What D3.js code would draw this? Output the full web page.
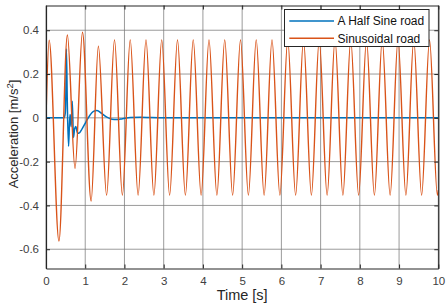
<!DOCTYPE html>
<html><head><meta charset="utf-8">
<script src="https://cdn.jsdelivr.net/npm/d3@7"></script>
<style>html,body{margin:0;padding:0;background:#fff;}svg{display:block;font-family:"Liberation Sans",Arial,sans-serif;}</style>
</head><body>
<svg id="chart" width="448" height="305"></svg>
<script>
const xTicks = [0,1,2,3,4,5,6,7,8,9,10];
const yTicks = [-0.6,-0.4,-0.2,0,0.2,0.4];
const yTickLabels = ["-0.6","-0.4","-0.2","0","0.2","0.4"];
const seriesNames = ["A Half Sine road","Sinusoidal road"];

const halfSineTime = [0,0.46,0.49,0.505,0.52,0.545,0.575,0.60,0.615,0.64,0.67,0.70,0.73,0.76,0.80,0.84,0.92,1.02,1.12,1.2,1.30,1.42,1.55,1.68,1.81,1.95,2.15,2.4,2.7,3.0,10];
const halfSineAccel = [0,0,0.02,0.10,0.315,0.05,-0.13,-0.02,0.015,-0.04,0.076,-0.09,-0.05,-0.04,-0.068,-0.07,-0.05,-0.018,0.012,0.028,0.033,0.02,0.003,-0.006,-0.008,-0.004,0.002,0.003,0.001,0,0];

const sinTime = [0,0.08,0.33,0.545,0.74,0.93,1.15,1.335,1.545,1.746,1.947,2.147,2.348,2.549,2.750,2.950,3.151,3.352,3.553,3.753,3.954,4.155,4.356,4.556,4.757,4.958,5.159,5.359,5.560,5.761,5.962,6.162,6.363,6.564,6.765,6.965,7.166,7.367,7.568,7.768,7.969,8.170,8.371,8.571,8.772,8.973,9.174,9.374,9.575,9.776,9.977,10];
const sinAccel = [0,0.355,-0.563,0.378,-0.231,0.391,-0.38,0.327,-0.353,
  0.356,-0.353,0.356,-0.353,0.356,-0.353,0.356,-0.353,0.356,-0.353,
  0.356,-0.353,0.356,-0.353,0.356,-0.353,0.356,-0.353,0.356,-0.353,
  0.356,-0.353,0.356,-0.353,0.356,-0.353,0.356,-0.353,0.356,-0.353,
  0.356,-0.353,0.356,-0.353,0.356,-0.353,0.356,-0.353,0.356,-0.353,
  0.356,-0.353,-0.33];

const colors = ["#0072BD","#D95319"];

const L = 46, R = 438.3, T = 5.5, B = 268.5;
const svg = d3.select("#chart");
const x = d3.scaleLinear().domain([0,10]).range([L,R]);
const y = d3.scaleLinear().domain([-0.688,0.513]).range([B,T]);

// grid
const grid = svg.append("g");
grid.selectAll(".gx").data(xTicks).enter().append("line")
  .attr("x1",d=>x(d)).attr("x2",d=>x(d)).attr("y1",T).attr("y2",B)
  .attr("stroke","#7a7a7a").attr("stroke-width",1).attr("opacity",0.75);
grid.selectAll(".gy").data(yTicks).enter().append("line")
  .attr("y1",d=>y(d)).attr("y2",d=>y(d)).attr("x1",L).attr("x2",R)
  .attr("stroke","#7a7a7a").attr("stroke-width",1).attr("opacity",0.75);

svg.append("defs").append("clipPath").attr("id","clip")
  .append("rect").attr("x",L).attr("y",T).attr("width",R-L).attr("height",B-T);

const line = d3.line().x(d=>x(d[0])).y(d=>y(d[1])).curve(d3.curveMonotoneX);
const plot = svg.append("g").attr("clip-path","url(#clip)");
plot.append("path").datum(halfSineTime.map((t,i)=>[t,halfSineAccel[i]]))
  .attr("d",line).attr("fill","none").attr("stroke",colors[0]).attr("stroke-width",1.5);
plot.append("path").datum(sinTime.map((t,i)=>[t,sinAccel[i]]))
  .attr("d",line).attr("fill","none").attr("stroke",colors[1]).attr("stroke-width",1.4);

// axes
const tl = 4;
const axB = svg.append("g").attr("transform",`translate(0,${B})`)
  .call(d3.axisBottom(x).tickValues(xTicks).tickFormat(d3.format("d")).tickSizeInner(-tl).tickSizeOuter(0).tickPadding(8));
const axT = svg.append("g").attr("transform",`translate(0,${T})`)
  .call(d3.axisTop(x).tickValues(xTicks).tickFormat("").tickSizeInner(-tl).tickSizeOuter(0));
const axL = svg.append("g").attr("transform",`translate(${L},0)`)
  .call(d3.axisLeft(y).tickValues(yTicks).tickFormat((d,i)=>yTickLabels[i]).tickSizeInner(-tl).tickSizeOuter(0).tickPadding(7));
const axR = svg.append("g").attr("transform",`translate(${R},0)`)
  .call(d3.axisRight(y).tickValues(yTicks).tickFormat("").tickSizeInner(-tl).tickSizeOuter(0));
[axB,axT,axL,axR].forEach(a=>{
  a.select(".domain").attr("stroke","#262626").attr("stroke-width",1.2);
  a.selectAll(".tick line").attr("stroke","#262626");
  a.selectAll("text").attr("fill","#404040").attr("font-size","11.5px")
   .attr("font-family","'Liberation Sans',Arial,sans-serif");
});

// labels
svg.append("text").attr("x",(L+R)/2).attr("y",300).attr("text-anchor","middle")
  .attr("font-size","14.5px").attr("fill","#262626").text("Time [s]");
const yl = svg.append("text").attr("transform","translate(17.5,134) rotate(-90)")
  .attr("text-anchor","middle").attr("font-size","13px").attr("fill","#262626");
yl.append("tspan").text("Acceleration [m/s");
yl.append("tspan").attr("dy","-5").attr("font-size","9.5px").text("2");
yl.append("tspan").attr("dy","5").text("]");

// legend
const lg = svg.append("g");
lg.append("rect").attr("x",284.5).attr("y",9.5).attr("width",144.5).attr("height",37)
  .attr("fill","#fff").attr("stroke","#262626").attr("stroke-width",1);
seriesNames.forEach((n,i)=>{
  const yy = 21 + i*17.3;
  lg.append("line").attr("x1",289.3).attr("x2",334).attr("y1",yy).attr("y2",yy)
    .attr("stroke",colors[i]).attr("stroke-width",1.4);
  lg.append("text").attr("x",337.5).attr("y",yy+4.2).attr("font-size","12px")
    .attr("fill","#111").text(n);
});
</script>
</body></html>
